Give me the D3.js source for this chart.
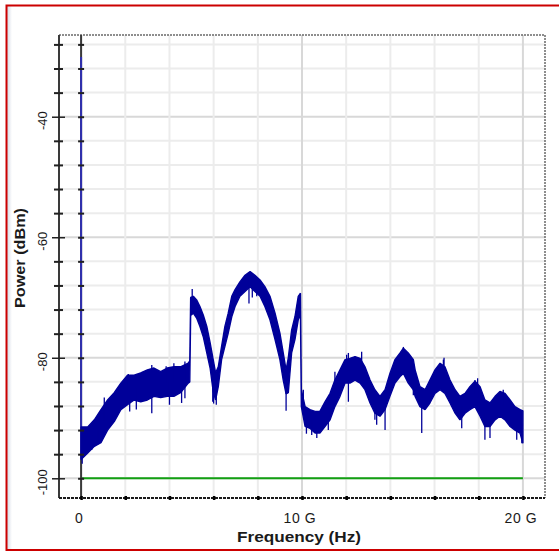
<!DOCTYPE html>
<html>
<head>
<meta charset="utf-8">
<script src="https://cdn.jsdelivr.net/npm/d3@7/dist/d3.min.js"></script>
<style>
  html, body { margin: 0; padding: 0; background: #ffffff; }
  svg { display: block; }
  text { font-family: "Liberation Sans", Arial, sans-serif; fill: #1a1a1a; }
</style>
</head>
<body>
<svg id="chart" width="559" height="552"></svg>
<script>
// Spectrum trace: noise band given by its upper and lower envelope (dBm) per frequency (GHz)
const freqGHz = [0.0, 0.3, 0.6, 0.9, 1.2, 1.5, 1.8, 2.1, 2.4, 2.7, 3.0, 3.3, 3.6, 3.9, 4.2, 4.5, 4.85, 4.92,
  4.96, 5.08, 5.23, 5.38, 5.53, 5.69, 5.84, 5.98, 6.09, 6.21, 6.36, 6.51, 6.66, 6.82, 6.97, 7.19, 7.42, 7.65,
  7.87, 8.10, 8.32, 8.55, 8.78, 9.00, 9.15, 9.28, 9.38, 9.53, 9.68, 9.83, 9.93, 9.97, 10.14, 10.36, 10.59,
  10.81, 11.04, 11.27, 11.49, 11.72, 11.95, 12.17, 12.40, 12.63, 12.85, 13.08, 13.30, 13.53, 13.76, 13.98,
  14.21, 14.44, 14.59, 14.81, 15.04, 15.12, 15.34, 15.57, 15.79, 16.02, 16.25, 16.47, 16.70, 16.93, 17.15,
  17.38, 17.60, 17.83, 18.06, 18.28, 18.51, 18.74, 18.96, 19.19, 19.42, 19.64, 19.87, 20.0];
const upperDbm = [-91.5, -91.5, -90.3, -88.6, -87.0, -85.8, -84.2, -82.9, -82.9, -82.5, -82.0, -81.7, -82.3, -81.7, -81.5, -81.5, -80.9, -80.5,
  -70.0, -69.8, -70.4, -71.5, -72.9, -74.8, -77.5, -80.3, -82.5, -81.5, -78.1, -74.8, -72.6, -69.8, -68.7, -67.4, -66.3, -65.7,
  -66.3, -67.1, -68.2, -69.8, -72.6, -75.9, -79.2, -82.0, -80.0, -75.4, -73.2, -69.8, -69.3, -85.3, -88.1, -88.6, -88.9,
  -88.9, -87.3, -85.9, -83.7, -82.0, -80.3, -80.1, -79.8, -80.1, -81.5, -83.7, -85.3, -86.4, -85.3, -82.6,
  -80.3, -79.2, -78.4, -79.2, -80.3, -82.0, -84.8, -85.3, -83.7, -82.0, -80.9, -81.5, -83.7, -85.3, -86.4,
  -85.9, -84.8, -83.9, -84.8, -87.0, -87.5, -86.4, -85.6, -85.9, -87.0, -88.1, -88.6, -88.8];
const lowerDbm = [-96.9, -95.8, -94.7, -94.1, -92.0, -90.6, -88.6, -87.8, -87.0, -87.3, -87.0, -86.4, -86.6, -86.4, -86.4, -85.8, -84.2, -84.0,
  -73.0, -72.6, -73.4, -74.8, -76.5, -79.2, -81.7, -85.6, -87.0, -84.8, -80.3, -78.1, -75.9, -73.2, -71.5, -69.8, -69.0, -68.2,
  -69.0, -69.8, -71.5, -73.7, -77.0, -80.3, -83.7, -86.0, -85.8, -79.2, -77.0, -73.7, -72.8, -88.1, -91.4, -91.7, -92.5,
  -92.5, -91.4, -90.3, -88.1, -86.4, -84.2, -84.2, -83.7, -84.2, -85.3, -87.5, -89.2, -89.7, -88.6, -86.4,
  -84.2, -83.1, -82.6, -84.2, -85.3, -86.4, -88.1, -88.6, -87.5, -85.9, -85.3, -85.9, -87.5, -89.2, -90.3,
  -89.2, -88.6, -88.1, -89.7, -91.4, -91.4, -90.3, -89.7, -90.3, -91.4, -92.0, -92.5, -94.2];

// Isolated noise spikes sticking out of the band
const spikeFreqGHz = [0.05, 0.48, 0.75, 1.05, 2.14, 2.2, 2.5, 3.2, 3.2, 3.85, 4.0, 4.2, 4.55, 4.7, 4.7,
  5.03, 5.96, 6.0, 6.12, 7.6, 7.75, 7.95, 9.28, 10.06, 10.2, 10.44, 10.67, 11.19, 11.49, 12.02, 12.1, 12.1,
  12.7, 13.3, 13.38, 13.76, 14.59, 14.66, 15.04, 15.42, 16.4, 16.43, 17.23, 17.83, 17.95, 18.28, 18.51,
  19.11, 19.72, 19.95];
const spikeDbm = [-97.6, -95.3, -94.4, -86.6, -82.7, -88.9, -88.6, -81.2, -89.2, -81.4, -87.8, -80.9, -87.5, -80.6, -86.7,
  -68.6, -87.3, -87.6, -87.8, -71.0, -70.0, -69.8, -88.8, -85.3, -92.6, -92.8, -93.3, -92.0, -82.3, -79.5, -79.2, -87.3,
  -79.0, -90.3, -91.1, -92.0, -78.2, -82.8, -86.2, -92.5, -80.3, -80.0, -91.7, -83.7, -83.4, -93.6, -93.3,
  -85.3, -93.6, -94.2];

const dcLevelDbm = -30.1;       // DC component at 0 Hz
const refLevelDbm = -100;       // reference level line
const refStartHz = 0, refEndHz = 20e9;

const yTickValues = [-100, -80, -60, -40];
const yTickLabels = ["-100", "-80", "-60", "-40"];
const xTickValues = [0, 10e9, 20e9];
const xTickLabels = ["0", "10 G", "20 G"];
const yGridStep = 4;            // dB between minor grid lines
const xGridStepHz = 2e9;

const traceColor = "#000099";

const svg = d3.select("#chart");
const W = 559, H = 552;
const plot = { left: 59, right: 545, top: 35, bottom: 498 };

const x = d3.scaleLinear().domain([-1e9, 21e9]).range([plot.left, plot.right]);
const y = d3.scaleLinear().domain([-103.27, -26.44]).range([plot.bottom, plot.top]);

svg.append("rect").attr("width", W).attr("height", H).attr("fill", "#ffffff");

// faint shading just inside the frame's left edge
const grad = svg.append("defs").append("linearGradient").attr("id", "edgeShade");
grad.append("stop").attr("offset", "0%").attr("stop-color", "#d5dbe6");
grad.append("stop").attr("offset", "100%").attr("stop-color", "#ffffff");
svg.append("rect").attr("x", 7).attr("y", 6).attr("width", 5).attr("height", 543).attr("fill", "url(#edgeShade)");

// red frame (left, top, bottom)
svg.append("path")
  .attr("d", `M559,5.5 H6.5 V550 H559`)
  .attr("fill", "none").attr("stroke", "#cc0000").attr("stroke-width", 2);

// grid
const yGridVals = d3.range(-100, -27, yGridStep);
const xGridVals = d3.range(0, 20e9 + 1, xGridStepHz);
const grid = svg.append("g");
grid.selectAll("line.h").data(yGridVals).join("line")
  .attr("x1", plot.left).attr("x2", plot.right)
  .attr("y1", d => y(d)).attr("y2", d => y(d))
  .attr("stroke", d => (d % 20 === 0 ? "#d8d8d8" : "#ececec")).attr("stroke-width", 2);
grid.selectAll("line.v").data(xGridVals).join("line")
  .attr("y1", plot.top).attr("y2", plot.bottom)
  .attr("x1", d => x(d)).attr("x2", d => x(d))
  .attr("stroke", d => (d % 10e9 === 0 ? "#d8d8d8" : "#ececec")).attr("stroke-width", 2);

// reference line
svg.append("line")
  .attr("x1", x(refStartHz)).attr("x2", x(refEndHz))
  .attr("y1", y(refLevelDbm)).attr("y2", y(refLevelDbm))
  .attr("stroke", "#12a012").attr("stroke-width", 2);

// plot border: dotted top and right
svg.append("line").attr("x1", plot.left).attr("x2", plot.right).attr("y1", plot.top).attr("y2", plot.top)
  .attr("stroke", "#6a6a6a").attr("stroke-width", 1.5).attr("stroke-dasharray", "2,1");
svg.append("line").attr("x1", plot.right).attr("x2", plot.right).attr("y1", plot.top).attr("y2", plot.bottom)
  .attr("stroke", "#6a6a6a").attr("stroke-width", 1.5).attr("stroke-dasharray", "2,1");

// zero-frequency axis line
svg.append("line").attr("x1", x(0)).attr("x2", x(0)).attr("y1", plot.top).attr("y2", plot.bottom)
  .attr("stroke", "#3a3a3a").attr("stroke-width", 2);

// DC component
svg.append("line").attr("x1", x(0)).attr("x2", x(0))
  .attr("y1", y(dcLevelDbm)).attr("y2", y(lowerDbm[0]))
  .attr("stroke", "#2f2fb0").attr("stroke-width", 2);

// spectrum band
const band = freqGHz.map((f, i) => ({ f: f * 1e9, hi: upperDbm[i], lo: lowerDbm[i] }));
const area = d3.area().x(d => x(d.f)).y0(d => y(d.lo)).y1(d => y(d.hi));
svg.append("path").datum(band).attr("d", area)
  .attr("fill", traceColor).attr("stroke", traceColor).attr("stroke-width", 1.4).attr("stroke-linejoin", "bevel");

// spikes, each drawn from the band centre out to its value
const bandMid = d3.scaleLinear().domain(freqGHz).range(freqGHz.map((f, i) => (upperDbm[i] + lowerDbm[i]) / 2));
svg.append("g").selectAll("line").data(spikeFreqGHz.map((f, i) => ({ f, v: spikeDbm[i] }))).join("line")
  .attr("x1", d => x(d.f * 1e9)).attr("x2", d => x(d.f * 1e9))
  .attr("y1", d => y(bandMid(d.f))).attr("y2", d => y(d.v))
  .attr("stroke", traceColor).attr("stroke-width", 1.3);

// left axis with ticks crossing the line
const yAxis = d3.axisLeft(y).tickValues(yGridVals).tickFormat("").tickSizeOuter(0);
const gy = svg.append("g").attr("transform", `translate(${plot.left},0)`).call(yAxis);
gy.select(".domain").attr("stroke", "#3a3a3a").attr("stroke-width", 2)
  .attr("d", `M0,${plot.top}V${plot.bottom}`);
gy.selectAll(".tick line")
  .attr("x1", d => (d % 20 === 0 ? 6 : 4)).attr("x2", d => (d % 20 === 0 ? -7 : -5))
  .attr("stroke", "#222").attr("stroke-width", d => (d % 20 === 0 ? 1.5 : 2));

// ticks on the zero-frequency line
const y0Axis = d3.axisLeft(y).tickValues(yGridVals).tickFormat("").tickSizeOuter(0);
const gy0 = svg.append("g").attr("transform", `translate(${x(0)},0)`).call(y0Axis);
gy0.select(".domain").remove();
gy0.selectAll(".tick line").attr("x1", 3).attr("x2", -3).attr("stroke", "#222").attr("stroke-width", 2);

// bottom axis
const xAxis = d3.axisBottom(x).tickValues(xGridVals).tickFormat("").tickSizeOuter(0);
const gx = svg.append("g").attr("transform", `translate(0,${plot.bottom})`).call(xAxis);
gx.select(".domain").attr("stroke", "#1a1a1a").attr("stroke-width", 2).attr("stroke-dasharray", "3,1")
  .attr("d", `M${plot.left},0H${plot.right}`);
gx.selectAll(".tick line").attr("y1", -2).attr("y2", 2).attr("stroke", "#000").attr("stroke-width", 2.5);

// y tick labels (rotated)
svg.append("g").selectAll("text").data(yTickValues).join("text")
  .attr("transform", d => `translate(47,${y(d) + 4}) rotate(-90)`)
  .attr("text-anchor", "middle").attr("font-size", 13)
  .text((d, i) => yTickLabels[i]);

// x tick labels
svg.append("g").selectAll("text").data(xTickValues).join("text")
  .attr("x", d => x(d) - 2).attr("y", 523)
  .attr("text-anchor", "middle").attr("font-size", 14).attr("letter-spacing", "0.6px")
  .text((d, i) => xTickLabels[i]);

// axis titles
svg.append("text")
  .attr("x", 299).attr("y", 542).attr("text-anchor", "middle")
  .attr("font-size", 14).attr("font-weight", "bold")
  .attr("textLength", 124).attr("lengthAdjust", "spacingAndGlyphs")
  .text("Frequency (Hz)");
svg.append("text")
  .attr("transform", "translate(25,258) rotate(-90)").attr("text-anchor", "middle")
  .attr("font-size", 14).attr("font-weight", "bold")
  .attr("textLength", 100).attr("lengthAdjust", "spacingAndGlyphs")
  .text("Power (dBm)");
</script>
</body>
</html>
